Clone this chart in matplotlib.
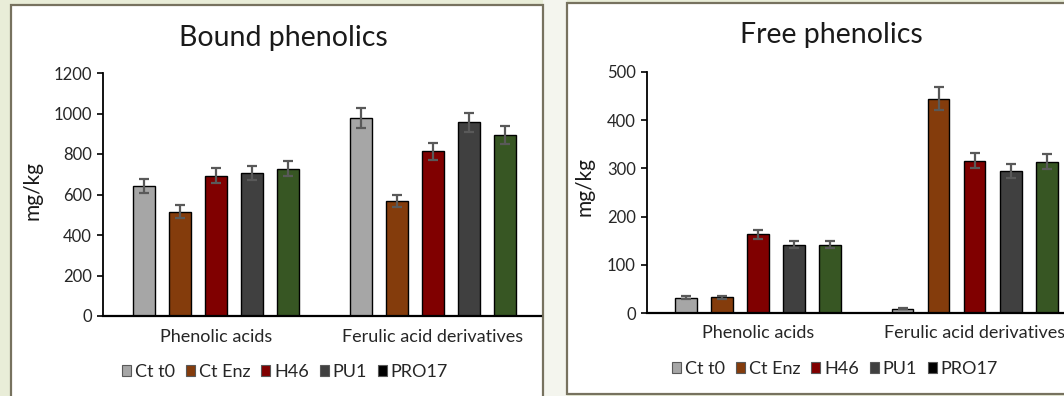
import matplotlib.pyplot as plt
import numpy as np
from matplotlib.patches import Rectangle, Patch

plt.rcParams["font.family"] = ["Lato", "DejaVu Sans"]

# data
categories = ["Phenolic acids", "Ferulic acid derivatives"]
series = ["Ct t0", "Ct Enz", "H46", "PU1", "PRO17"]
bar_colors = ["#A6A6A6", "#843C0C", "#800000", "#404040", "#375623"]
legend_colors = ["#A6A6A6", "#843C0C", "#800000", "#404040", "#000000"]

bound_vals = [[642, 979], [516, 566], [693, 814], [706, 957], [728, 894]]
bound_err = [[33, 50], [30, 30], [37, 42], [35, 47], [37, 46]]
free_vals = [[32, 9], [33, 445], [163, 316], [142, 295], [142, 314]]
free_err = [[3, 1.5], [3, 23], [9, 16], [7, 15], [7.5, 16]]

W, H = 1064, 396
fig = plt.figure(figsize=(W / 100, H / 100), dpi=100)
fig.patch.set_facecolor("#E9EDD8")

# slide background and the two white chart boxes
fig.patches.append(Rectangle((543 / W, 0), 24 / W, 1, transform=fig.transFigure,
                             facecolor="#F4F5EE", edgecolor="none", zorder=-3))
fig.patches.append(Rectangle((11 / W, -0.05), 532 / W, 1.05 - 5 / H,
                             transform=fig.transFigure, facecolor="white",
                             edgecolor="#77725F", linewidth=1.6, zorder=-2))
fig.patches.append(Rectangle((567 / W, 2 / H), 600 / W, 1 - 5 / H,
                             transform=fig.transFigure, facecolor="white",
                             edgecolor="#77725F", linewidth=1.6, zorder=-2))


def draw_panel(rect, vals, errs, ymax, step, xlim, title, title_xy, ylab_xy, leg_xy):
    ax = fig.add_axes(rect)
    ax.set_facecolor("none")
    x = np.arange(len(categories))
    bstep, bw = 0.166, 0.101
    for i, name in enumerate(series):
        ax.bar(x + (i - 2) * bstep, vals[i], bw, color=bar_colors[i],
               edgecolor="black", linewidth=1.0, zorder=2)
        ax.errorbar(x + (i - 2) * bstep, vals[i], yerr=errs[i], fmt="none",
                    ecolor="#595959", elinewidth=1.6, capsize=3.5,
                    capthick=1.6, zorder=3)
    ax.set_ylim(0, ymax)
    ax.set_xlim(*xlim)
    ax.set_yticks(np.arange(0, ymax + 1, step))
    ax.set_xticks(x)
    ax.set_xticklabels(categories, fontsize=13, color="#262626")
    ax.tick_params(axis="x", length=0, pad=9)
    ax.tick_params(axis="y", length=4, width=1.2, labelsize=12,
                   labelcolor="#262626", pad=4)
    for s in ["top", "right"]:
        ax.spines[s].set_visible(False)
    ax.spines["left"].set_linewidth(1.3)
    ax.spines["bottom"].set_linewidth(1.6)
    fig.text(title_xy[0] / W, 1 - title_xy[1] / H, title, fontsize=20.5,
             ha="center", va="center", color="#1a1a1a")
    fig.text(ylab_xy[0] / W, 1 - ylab_xy[1] / H, "mg/kg", fontsize=15,
             rotation=90, ha="center", va="center", color="#1a1a1a")
    handles = [Patch(facecolor=c, edgecolor="#595959", linewidth=0.8)
               for c in legend_colors]
    fig.legend(handles, series, loc="center", ncol=5, frameon=False,
               bbox_to_anchor=(leg_xy[0] / W, 1 - leg_xy[1] / H),
               fontsize=13, handlelength=0.52, handleheight=0.52,
               handletextpad=0.2, columnspacing=0.6, labelcolor="#262626")
    return ax


draw_panel([103 / W, 1 - 316 / H, 438 / W, 243 / H], bound_vals, bound_err,
           1200, 200, (-0.52, 1.5), "Bound phenolics", (283, 38), (32, 190), (285, 372))
draw_panel([647 / W, 1 - 313 / H, 436 / W, 241 / H], free_vals, free_err,
           500, 100, (-0.51, 1.5), "Free phenolics", (831, 35), (585, 187), (835, 369))

fig.savefig("out.png", dpi=100, facecolor=fig.get_facecolor())
